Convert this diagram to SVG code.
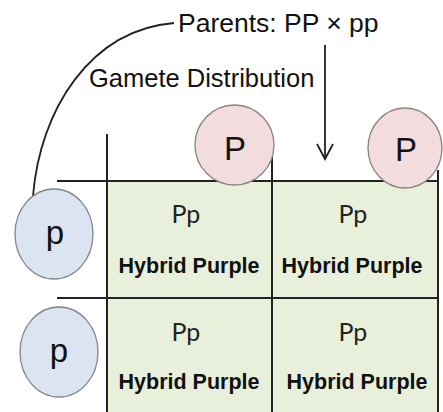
<svg xmlns="http://www.w3.org/2000/svg" width="443" height="412" viewBox="0 0 443 412">
  <style>
    .label { font-family: "Liberation Sans", Arial, sans-serif; fill: #111; }
    .allele { font-family: "Liberation Sans", Arial, sans-serif; font-size: 33px; fill: #111; text-anchor: middle; }
    .geno { font-family: Lato, "Open Sans", sans-serif; font-size: 25px; fill: #222; text-anchor: middle; }
    .pheno { font-family: "Liberation Sans", Arial, sans-serif; font-size: 21.5px; font-weight: bold; fill: #111; text-anchor: middle; }
    .cell { fill: #e8efdb; }
    .grid line { stroke: #222; stroke-width: 2; }
    .dom { fill: #f2dcdd; stroke: #8a8283; stroke-width: 1.3; }
    .rec { fill: #dde4f1; stroke: #82868d; stroke-width: 1.3; }
    .conn { fill: none; stroke: #222; stroke-width: 1.8; }
  </style>
  <defs>
    <marker id="openArrow" viewBox="0 0 20 20" refX="18" refY="10" markerWidth="20" markerHeight="20" markerUnits="userSpaceOnUse" orient="auto">
      <path d="M3,2 L18,10 L3,18" fill="none" stroke="#222" stroke-width="1.8"/>
    </marker>
  </defs>

  <rect width="443" height="412" fill="#fff"/>

  <!-- Punnett square cells -->
  <g id="cells">
    <rect class="cell" x="107" y="181" width="165" height="116"/>
    <rect class="cell" x="272" y="181" width="166" height="116"/>
    <rect class="cell" x="107" y="298" width="165" height="114"/>
    <rect class="cell" x="272" y="298" width="166" height="114"/>
  </g>

  <!-- grid rules -->
  <g id="grid" class="grid">
    <line x1="107" y1="134" x2="107" y2="412"/>
    <line x1="272" y1="156" x2="272" y2="412"/>
    <line x1="438" y1="170" x2="438" y2="412"/>
    <line x1="57" y1="181" x2="438" y2="181"/>
    <line x1="57" y1="298" x2="438" y2="298"/>
  </g>

  <!-- connectors -->
  <g id="connectors">
    <path class="conn" d="M33,196 C40,110 90,30 174,23"/>
    <line class="conn" x1="325" y1="45" x2="325" y2="159" marker-end="url(#openArrow)"/>
  </g>

  <g id="parents-label">
    <text class="label" x="178" y="32" font-size="26.5">Parents: PP × pp</text>
  </g>
  <g id="gamete-label">
    <text class="label" x="89" y="87" font-size="25.5">Gamete Distribution</text>
  </g>

  <!-- dominant gametes (columns) -->
  <g id="gamete-P1">
    <ellipse class="dom" cx="234.5" cy="145" rx="39.5" ry="40"/>
    <text class="allele" x="235" y="160">P</text>
  </g>
  <g id="gamete-P2">
    <ellipse class="dom" cx="405" cy="148" rx="37" ry="40"/>
    <text class="allele" x="406" y="161">P</text>
  </g>

  <!-- recessive gametes (rows) -->
  <g id="gamete-p1">
    <ellipse class="rec" cx="54" cy="234" rx="39" ry="45"/>
    <text class="allele" x="55" y="244">p</text>
  </g>
  <g id="gamete-p2">
    <ellipse class="rec" cx="59" cy="352" rx="39" ry="45"/>
    <text class="allele" x="59" y="362">p</text>
  </g>

  <!-- offspring -->
  <g id="cell-1-1">
    <text class="geno" x="186" y="223">Pp</text>
    <text class="pheno" x="189" y="273">Hybrid Purple</text>
  </g>
  <g id="cell-1-2">
    <text class="geno" x="353" y="223">Pp</text>
    <text class="pheno" x="352" y="273">Hybrid Purple</text>
  </g>
  <g id="cell-2-1">
    <text class="geno" x="186" y="341">Pp</text>
    <text class="pheno" x="189" y="389">Hybrid Purple</text>
  </g>
  <g id="cell-2-2">
    <text class="geno" x="353" y="341">Pp</text>
    <text class="pheno" x="357" y="389">Hybrid Purple</text>
  </g>
</svg>
